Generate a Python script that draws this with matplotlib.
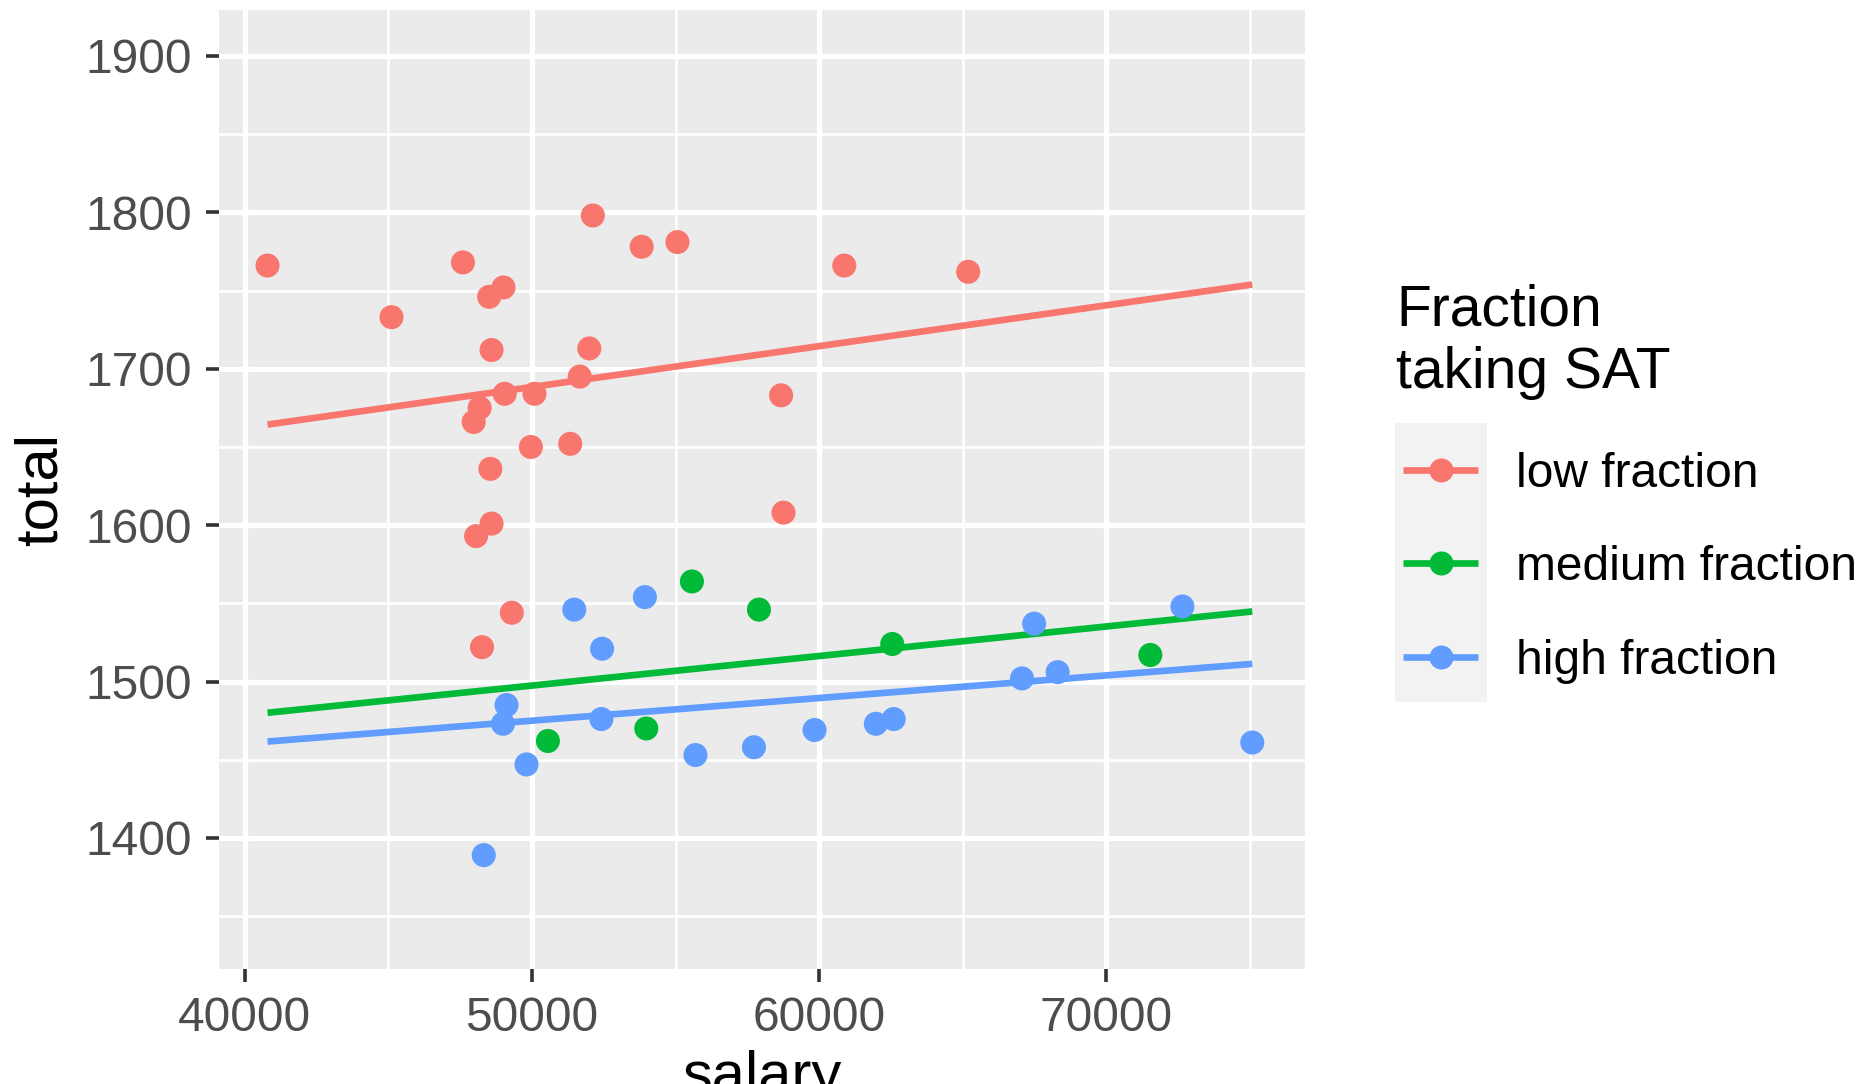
import numpy as np
import matplotlib
matplotlib.use("Agg")
import matplotlib.pyplot as plt
from matplotlib.lines import Line2D
from matplotlib.patches import Rectangle

plt.rcParams['font.family'] = ['Liberation Sans', 'DejaVu Sans']

# data
low_salary = [40788, 45104, 47593, 48506, 49004, 48589, 52116, 51992, 53817,
              55062, 60871, 65187, 51660, 50083, 49046, 48174, 47967, 49959,
              51328, 48548, 48589, 48050, 58672, 58755, 49295, 48257]
low_total = [1766, 1733, 1768, 1746, 1752, 1712, 1798, 1713, 1778,
             1781, 1766, 1762, 1695, 1684, 1684, 1675, 1666, 1650,
             1652, 1636, 1601, 1593, 1683, 1608, 1544, 1522]

med_salary = [55566, 57900, 62542, 71529, 53977, 50551]
med_total = [1564, 1546, 1524, 1517, 1470, 1462]

high_salary = [51470, 53928, 52438, 49111, 48987, 49806, 48317, 52413, 55690,
               57726, 59836, 61971, 62592, 67061, 68302, 67483, 72646, 75079]
high_total = [1546, 1554, 1521, 1485, 1473, 1447, 1389, 1476, 1453,
              1458, 1469, 1473, 1476, 1502, 1506, 1537, 1548, 1461]

groups = ['low fraction', 'medium fraction', 'high fraction']
colors = ['#F8766D', '#00BA38', '#619CFF']

W, H = 1869, 1084
fig = plt.figure(figsize=(W / 100, H / 100), dpi=100)
ax = fig.add_axes([219 / W, 1 - 969 / H, (1305 - 219) / W, (969 - 10) / H])
ax.set_facecolor('#EBEBEB')
for s in ax.spines.values():
    s.set_visible(False)

xs = [low_salary, med_salary, high_salary]
ys = [low_total, med_total, high_total]
all_x = np.concatenate([np.array(v) for v in xs])
xr = np.array([all_x.min(), all_x.max()])

# lm fit per group, drawn over the full salary range
for x, y, c in zip(xs, ys, colors):
    b, a = np.polyfit(x, y, 1)
    ax.plot(xr, a + b * xr, color=c, lw=4.8, zorder=3, solid_capstyle='butt')
    ax.scatter(x, y, s=300, color=c, edgecolors='none', zorder=4)

ax.set_xlim(39098, 76915)
ax.set_ylim(1316.2, 1929.4)
ax.set_xticks([40000, 50000, 60000, 70000])
ax.set_yticks([1400, 1500, 1600, 1700, 1800, 1900])
ax.set_xticks([45000, 55000, 65000, 75000], minor=True)
ax.set_yticks([1350, 1450, 1550, 1650, 1750, 1850], minor=True)
ax.grid(True, which='major', color='white', lw=3.8)
ax.grid(True, which='minor', color='white', lw=1.9)
ax.set_axisbelow(True)
ax.tick_params(which='major', length=9.5, width=2.6, color='#333333',
               labelsize=34.5, labelcolor='#4D4D4D', pad=10)
ax.tick_params(which='minor', length=0)

fig.text(41 / W, 1 - 489 / H, 'total', rotation=90, ha='center', va='center',
         fontsize=43, color='black')
fig.text(762 / W, 1 - 1050 / H, 'salary', ha='center', va='top',
         fontsize=43, color='black')

# legend
fig.text(1396 / W, 1 - 325 / H, 'Fraction', fontsize=41, va='baseline')
fig.text(1396 / W, 1 - 388 / H, 'taking SAT', fontsize=41, va='baseline')
fig.add_artist(Rectangle((1395 / W, 1 - 702 / H), 92 / W, 279 / H,
                         transform=fig.transFigure, facecolor='#F2F2F2',
                         edgecolor='none'))
key_y = [470, 563, 657]
for g, c, ky in zip(groups, colors, key_y):
    yy = 1 - ky / H
    fig.add_artist(Line2D([1403 / W, 1478 / W], [yy, yy], transform=fig.transFigure,
                          color=c, lw=4.8, solid_capstyle='butt'))
    fig.add_artist(Line2D([1441 / W], [yy], transform=fig.transFigure, marker='o',
                          markersize=17.3, color=c, markeredgewidth=0))
    fig.text(1516 / W, 1 - (ky + 17) / H, g, fontsize=34.5, va='baseline')

fig.savefig('out.png', dpi=100)
